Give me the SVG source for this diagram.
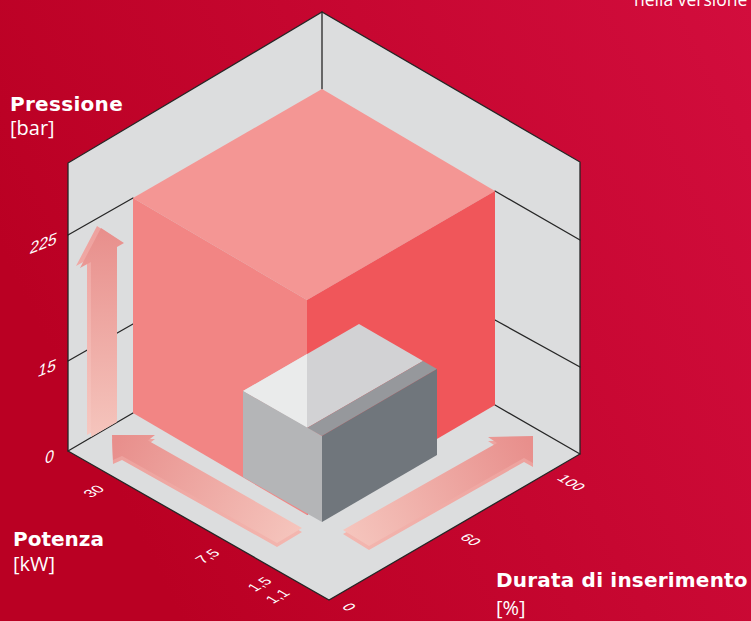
<svg xmlns="http://www.w3.org/2000/svg" width="751" height="621" viewBox="0 0 751 621">
<defs>
<linearGradient id="bg" x1="0" y1="0.4" x2="1" y2="0">
<stop offset="0" stop-color="#BA0023"/>
<stop offset="1" stop-color="#D20D3D"/>
</linearGradient>
<linearGradient id="gV" gradientUnits="userSpaceOnUse" x1="100" y1="230" x2="104" y2="437">
<stop offset="0" stop-color="#E88F8C"/>
<stop offset="1" stop-color="#F5C5BD"/>
</linearGradient>
<linearGradient id="gVs" gradientUnits="userSpaceOnUse" x1="100" y1="230" x2="104" y2="437">
<stop offset="0" stop-color="#EEA29F"/>
<stop offset="1" stop-color="#F6C8C1"/>
</linearGradient>
<linearGradient id="gL" gradientUnits="userSpaceOnUse" x1="118" y1="440" x2="295" y2="540">
<stop offset="0" stop-color="#E88F8C"/>
<stop offset="1" stop-color="#F5C5BD"/>
</linearGradient>
<linearGradient id="gLs" gradientUnits="userSpaceOnUse" x1="118" y1="440" x2="295" y2="540">
<stop offset="0" stop-color="#EDA19D"/>
<stop offset="1" stop-color="#F3B6AF"/>
</linearGradient>
<linearGradient id="gR" gradientUnits="userSpaceOnUse" x1="530" y1="445" x2="350" y2="540">
<stop offset="0" stop-color="#E88F8C"/>
<stop offset="1" stop-color="#F5C5BD"/>
</linearGradient>
<linearGradient id="gRs" gradientUnits="userSpaceOnUse" x1="530" y1="445" x2="350" y2="540">
<stop offset="0" stop-color="#EDA19D"/>
<stop offset="1" stop-color="#F3B6AF"/>
</linearGradient>
<style>
.ln{stroke:#262626;stroke-width:1.3;fill:none;stroke-linecap:round}
.bold{font-family:"DejaVu Sans",sans-serif;font-weight:bold;font-size:20px;fill:#FFFFFF}
.unit{font-family:"Open Sans","DejaVu Sans",sans-serif;font-size:20px;fill:#FFFFFF}
.tick{font-family:"Liberation Sans",Arial,sans-serif;font-size:15px;fill:#FFFFFF}
.wtick{font-family:"Liberation Sans",Arial,sans-serif;font-size:16px;font-style:italic;fill:#FFFFFF}
</style>
</defs>

<rect x="0" y="0" width="751" height="621" fill="url(#bg)"/>

<g id="frame">
<polygon points="322,12 580,162 580,454 329,600 68,451 68,163" fill="#DCDDDE"/>
</g>

<g id="connectors">
<line class="ln" x1="322" y1="12" x2="322" y2="89"/>
<line class="ln" x1="68" y1="235" x2="133" y2="198"/>
<line class="ln" x1="68" y1="361" x2="133" y2="324"/>
<line class="ln" x1="68" y1="451" x2="133" y2="413"/>
<line class="ln" x1="495" y1="191" x2="580" y2="240"/>
<line class="ln" x1="495" y1="320" x2="580" y2="367"/>
<line class="ln" x1="495" y1="405" x2="580" y2="454"/>
<polyline class="ln" points="68,451 68,163 322,12 580,162 580,454 329,600 68,451"/>
</g>

<g id="cube">
<polygon points="322,89 495,191 307,300 133,198" fill="#F49694"/>
<polygon points="133,198 307,300 307,515 133,413" fill="#F28584"/>
<polygon points="307,300 495,191 495,405 307,515" fill="#F0565A"/>
</g>

<g id="box">
<polygon points="243,391 359,324 423,361 307,428" fill="#D2D2D4"/>
<polygon points="243,391 307,354 307,428" fill="#EAEBEB"/>
<polygon points="423,361 437,369 322,436 307,428" fill="#96989C"/>
<polygon points="243,391 322,436 322,522 243,477" fill="#B4B5B7"/>
<polygon points="322,436 437,369 437,455 322,522" fill="#70767C"/>
</g>

<g id="arrow-pressione">
<polygon points="97,226 120,241 113,246 113,420 87,435 87,260 76,266" fill="url(#gVs)"/>
<polygon points="101,228 124,243 117,247 117,422 91,437 91,262 80,268" fill="url(#gV)"/>
</g>

<g id="arrow-potenza">
<polygon points="112,439 155,439 148,444.5 302,532 277,547 122,460 113,464" fill="url(#gLs)"/>
<polygon points="112,435 155,435 148,440.5 302,528 277,543 122,456 113,460" fill="url(#gL)"/>
</g>

<g id="arrow-durata">
<polygon points="533,440 488,441 497,447 343,534 369,550 524,462 533,467" fill="url(#gRs)"/>
<polygon points="533,436 488,437 497,443 343,530 369,546 524,458 533,463" fill="url(#gR)"/>
</g>

<g id="labels">
<text class="bold" x="10" y="111" letter-spacing="0.3">Pressione</text>
<text class="unit" x="10" y="135">[bar]</text>
<text class="bold" x="13" y="546">Potenza</text>
<text class="unit" x="13" y="571">[kW]</text>
<text class="bold" x="496" y="587" letter-spacing="0.2">Durata di inserimento</text>
<text class="unit" x="496" y="615">[%]</text>
<text x="634" y="5.5" font-family="Open Sans, DejaVu Sans, sans-serif" font-size="17.5" fill="#FFFFFF">nella versione</text>
</g>

<g id="ticks-pressione">
<text class="wtick" transform="matrix(1,-0.4,0,1,30,254)">225</text>
<text class="wtick" transform="matrix(1,-0.4,0,1,38,377)">15</text>
<text class="wtick" transform="matrix(1,-0.4,0,1,45,464)">0</text>
</g>

<g id="ticks-potenza">
<text class="tick" transform="matrix(0.866,-0.5,0.866,0.5,91,498)">30</text>
<text class="tick" transform="matrix(0.866,-0.5,0.866,0.5,203,564)">7,5</text>
<text class="tick" transform="matrix(0.866,-0.5,0.866,0.5,255,592)">1,5</text>
<text class="tick" transform="matrix(0.866,-0.5,0.866,0.5,273,604)">1,1</text>
</g>

<g id="ticks-durata">
<text class="tick" transform="matrix(0.866,0.5,-0.866,0.5,341,607.5)">0</text>
<text class="tick" transform="matrix(0.866,0.5,-0.866,0.5,459,538)">60</text>
<text class="tick" transform="matrix(0.866,0.5,-0.866,0.5,556,479)">100</text>
</g>
</svg>
